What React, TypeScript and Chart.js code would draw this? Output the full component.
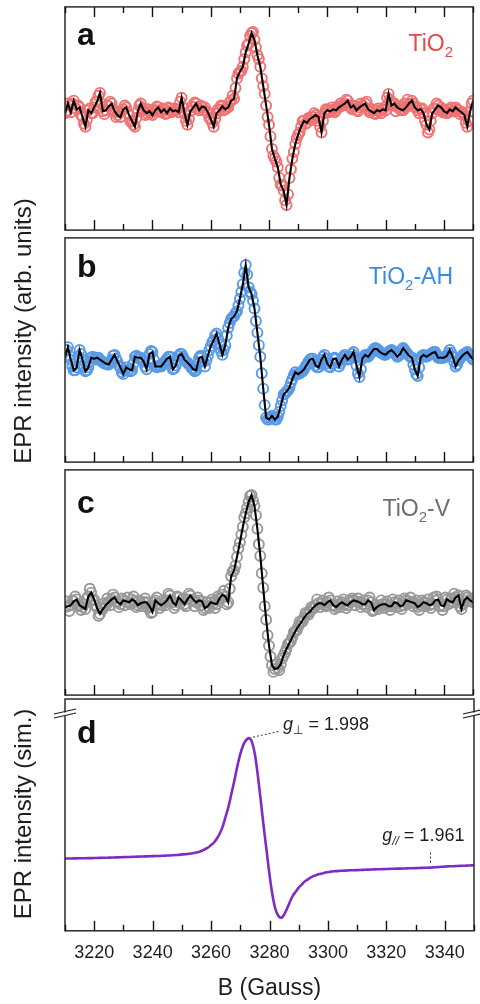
import React, { useEffect, useRef } from "react";
import { Chart, registerables } from "chart.js";

Chart.register(...registerables);

const FONT = "'Liberation Sans', Arial, Helvetica, 'DejaVu Sans', sans-serif";
const INK = "#1e1e1e";
const AXIS = "#2b2b2b";

// ---- field axis (Gauss) ----
const B_MIN = 3210;
const B_MAX = 3350;
const fieldGauss: number[] = Array.from({ length: 141 }, (_, i) => B_MIN + i);
const rawFieldGauss: number[] = Array.from({ length: 140 }, (_, i) => B_MIN + 0.5 + i);
const majorTicks = [3220, 3240, 3260, 3280, 3300, 3320, 3340];
const minorTicks = [3210, 3230, 3250, 3270, 3290, 3310, 3330, 3350];
const tickLabels = ["3220", "3240", "3260", "3280", "3300", "3320", "3340"];

// ---- (a) TiO2 ----
const tio2Line = [
  2, 12, 3, 15, 6, 8, -2, -12, 5, 2,
  8, 14, 23, 4, 5, 9, 12, 4, 0, -2,
  6, 8, 0, -6, -12, 4, 12, 5, 2, 4,
  0, 5, 8, 3, 6, 2, 7, 4, 5, 3,
  18, 2, -10, 4, 8, 12, 5, 9, 8, 3,
  -4, -12, 2, 5, 9, 6, 8, 15, 17, 38,
  45, 50, 65, 74, 85, 78, 62, 50, 30, 10,
  -10, -35, -45, -54, -72, -78, -93, -65, -45, -30,
  -20, -12, -6, -8, -4, -2, 0, -2, -18, 2,
  5, 4, 6, 5, 8, 10, 12, 15, 8, 10,
  5, 8, 10, 12, 6, 4, 2, 5, 4, 6,
  5, 22, 10, 12, 8, 6, 5, 8, 12, 15,
  8, 5, 6, 2, -10, -15, 2, 6, 10, 8,
  4, 2, 6, 4, 8, 5, 3, 0, -12, 4,
  15,
];
const tio2Raw = [
  4, 10, 12, 7, 10, 0, -9, -5, 7, 2,
  14, 20, 12, 1, 10, 14, 6, -2, 3, 4,
  10, 2, -7, -10, -3, 10, 7, 0, 6, 2,
  4, 9, 4, 7, 1, 8, 3, 7, 6, 14,
  8, -6, -4, 9, 13, 7, 10, 5, 4, -3,
  -8, -4, 6, 10, 5, 9, 13, 20, 28, 43,
  46, 58, 72, 82, 86, 70, 58, 38, 22, -2,
  -22, -42, -48, -65, -73, -88, -82, -56, -38, -24,
  -18, -6, -9, -3, -5, 2, -6, -12, -6, 6,
  3, 8, 3, 9, 12, 10, 16, 10, 6, 9,
  4, 12, 9, 14, 3, 6, 1, 7, 2, 8,
  18, 16, 12, 4, 9, 5, 12, 16, 11, 12,
  9, 2, 7, -6, -18, -6, 7, 12, 5, 3,
  5, 3, 8, 4, 6, 1, 3, -8, -6, 12,
];

// ---- (b) TiO2-AH ----
const tio2AhLine = [
  5, 15, 2, -9, -6, 12, 2, -10, -6, 4,
  3, 4, 2, 0, -2, -3, 2, 7, 0, -6,
  -13, -6, -8, -9, 5, 4, 4, 0, -8, 8,
  10, -5, -5, -5, -1, 3, 5, -8, -4, 6,
  8, 2, -1, -4, -8, -9, 4, 5, -5, 6,
  16, 22, 29, 18, 7, 17, 35, 44, 47, 52,
  65, 80, 100, 77, 70, 55, 30, 5, -28, -58,
  -60, -56, -60, -57, -46, -34, -31, -27, -18, -11,
  -13, -11, -8, -3, 2, 3, -4, -6, 2, 7,
  -2, -6, 3, 3, -5, 2, 7, 2, 5, 10,
  -4, -16, 3, 7, 5, 9, 13, 13, 10, 8,
  7, 10, 12, 9, 5, 8, 14, 10, 6, 4,
  -8, -15, 4, 7, 5, 7, 9, 10, 4, 4,
  4, 6, 12, 5, -5, 1, 5, 8, 10, 6,
  2,
];
const tio2AhRaw = [
  12, 6, -5, -9, 5, 8, -5, -9, 0, 5,
  2, 4, 0, -2, -3, 0, 6, 3, -4, -11,
  -9, -6, -10, -2, 6, 3, 2, -5, 0, 11,
  2, -6, -4, -3, 1, 5, -2, -7, 2, 8,
  5, 0, -3, -7, -10, -2, 6, 0, 1, 12,
  20, 27, 24, 11, 12, 27, 40, 46, 50, 58,
  72, 92, 90, 72, 63, 42, 17, -12, -45, -60,
  -58, -58, -60, -52, -40, -33, -30, -22, -14, -13,
  -12, -10, -5, 0, 3, 0, -6, -2, 5, 3,
  -5, -2, 4, -1, -2, 5, 5, 3, 8, 4,
  -12, -8, 5, 6, 7, 11, 14, 12, 9, 7,
  9, 11, 11, 7, 6, 12, 12, 8, 5, -3,
  -13, -6, 6, 6, 6, 8, 10, 7, 4, 4,
  5, 9, 9, 0, -3, 3, 7, 9, 8, 4,
];

// ---- (c) TiO2-V ----
const tio2VLine = [
  -5, -4, -3, 1, 3, -3, -5, -7, 6, 10,
  3, -6, -12, -7, -3, 0, 3, 5, 0, -2,
  2, 1, 0, 3, 1, -3, -1, 0, 0, -4,
  -10, 2, -1, -3, -1, 2, 7, 0, -3, 5,
  2, -2, 3, 7, 3, 0, 2, 1, -6, -4,
  0, -1, -2, 4, 8, 6, 0, 27, 33, 47,
  62, 78, 92, 104, 111, 100, 76, 48, 15, -18,
  -45, -65, -69, -68, -64, -55, -48, -42, -36, -30,
  -25, -21, -16, -12, -10, -6, -3, -1, -1, -3,
  0, 2, -3, -5, -2, 0, -2, -3, 0, 2,
  1, 0, -2, -2, 2, 0, -8, -5, -3, -2,
  -2, -4, -4, 0, -1, -4, -3, 2, 1, 0,
  -1, -5, -3, 0, -1, -3, -2, 2, 3, -3,
  -4, 3, 1, 0, 5, 7, -7, 2, 5, 2,
  0,
];
const tio2VRaw = [
  1, -9, 2, 6, -4, -8, -2, 4, 14, 2,
  -3, -14, -6, -1, 4, -3, 8, 1, -5, 4,
  -3, 5, -2, 6, -5, 2, -4, 4, -6, -11,
  0, 5, -6, 2, -3, 9, 2, -6, 6, -1,
  4, -4, 9, 2, -4, 5, -3, -8, 0, -6,
  3, -6, 6, 4, 12, -2, 14, 32, 38, 56,
  70, 88, 98, 110, 105, 90, 60, 30, -4, -34,
  -56, -72, -64, -70, -58, -52, -43, -40, -31, -29,
  -20, -20, -11, -13, -5, -6, 3, -5, 2, -4,
  5, -3, -7, 1, -5, 3, -6, 2, 4, -3,
  4, -5, 2, -5, 5, -9, -3, -7, 2, -6,
  1, -8, 3, -5, 2, -7, 4, -2, 5, -4,
  2, -8, 2, -4, 3, -6, 5, 6, -4, -8,
  5, -2, 4, 9, 3, -4, -2, 7, 1, 4,
];

// ---- (d) simulation ----
const simCurve = [
  0, 0.05, 0.1, 0.15, 0.2, 0.25, 0.3, 0.35, 0.4, 0.45,
  0.5, 0.6, 0.7, 0.75, 0.8, 0.9, 1.0, 1.1, 1.2, 1.3,
  1.4, 1.5, 1.6, 1.7, 1.8, 1.9, 2.0, 2.1, 2.2, 2.3,
  2.4, 2.5, 2.6, 2.7, 2.8, 3.0, 3.1, 3.3, 3.5, 3.7,
  4.0, 4.3, 4.6, 5.0, 5.5, 6.0, 6.7, 8.0, 9.5, 11,
  13.5, 16, 20, 25, 32, 42, 52, 65, 78, 92,
  104, 113, 118, 120, 116, 104, 83, 58, 32, 8,
  -16, -36, -50, -57, -59, -56, -50, -43, -37, -33,
  -29, -26, -23, -21, -19, -17.5, -16.5, -15.5, -15, -14,
  -13.5, -13, -12.7, -12.5, -12.3, -12.1, -12, -11.8, -11.7, -11.6,
  -11.5, -11.4, -11.3, -11.1, -11, -10.9, -10.8, -10.7, -10.6, -10.5,
  -10.4, -10.3, -10.2, -10.1, -10, -10, -9.9, -9.8, -9.7, -9.6,
  -9.5, -9.4, -9.3, -9.2, -9.1, -9, -8.8, -8.6, -8.4, -8.2,
  -8, -7.8, -7.7, -7.6, -7.5, -7.3, -7.2, -7.1, -7, -6.8,
  -6.7,
];
const gPerpField = 3273;
const gPerpLabel = "1.998";
const gParField = 3335;
const gParLabel = "1.961";

type Run = { text: string; size: number; bold?: boolean; italic?: boolean; dy?: number };

interface PanelSpec {
  id: string;
  letter: string;
  canvasTop: number;
  canvasHeight: number;
  padTop: number;
  padBottom: number;
  yMin: number;
  yMax: number;
  line: number[];
  raw: number[] | null;
  markColor: string;
  labelColor: string;
  labelRuns: Run[];
  letterDy: number;
  labelDy: number;
  labelRight: number;
  topTicks: boolean;
  isSim: boolean;
}

const PANELS: PanelSpec[] = [
  {
    id: "a", letter: "a", canvasTop: 0, canvasHeight: 237, padTop: 3, padBottom: 3,
    yMin: -119, yMax: 112, line: tio2Line, raw: tio2Raw,
    markColor: "rgb(240,114,114)", labelColor: "rgb(232,72,72)",
    labelRuns: [{ text: "TiO", size: 23 }, { text: "2", size: 15, dy: 6 }],
    letterDy: 38, labelDy: 44, labelRight: 453, topTicks: true, isSim: false,
  },
  {
    id: "b", letter: "b", canvasTop: 231, canvasHeight: 238, padTop: 3, padBottom: 3,
    yMin: -104, yMax: 128, line: tio2AhLine, raw: tio2AhRaw,
    markColor: "rgb(88,154,232)", labelColor: "rgb(58,140,226)",
    labelRuns: [{ text: "TiO", size: 23 }, { text: "2", size: 15, dy: 6 }, { text: "-AH", size: 23 }],
    letterDy: 39, labelDy: 46, labelRight: 453, topTicks: false, isSim: false,
  },
  {
    id: "c", letter: "c", canvasTop: 463, canvasHeight: 239, padTop: 3, padBottom: 3,
    yMin: -96, yMax: 137, line: tio2VLine, raw: tio2VRaw,
    markColor: "rgb(152,152,152)", labelColor: "rgb(110,110,110)",
    labelRuns: [{ text: "TiO", size: 23 }, { text: "2", size: 15, dy: 6 }, { text: "-V", size: 23 }],
    letterDy: 43, labelDy: 46, labelRight: 450, topTicks: false, isSim: false,
  },
  {
    id: "d", letter: "d", canvasTop: 695, canvasHeight: 309, padTop: 4, padBottom: 2,
    yMin: -72, yMax: 159, line: simCurve, raw: null,
    markColor: "rgb(128,42,196)", labelColor: INK,
    labelRuns: [],
    letterDy: 44, labelDy: 0, labelRight: 0, topTicks: false, isSim: true,
  },
];

function fontOf(r: Run) {
  return `${r.italic ? "italic " : ""}${r.bold ? "bold " : ""}${r.size}px ${FONT}`;
}

function drawRuns(ctx: CanvasRenderingContext2D, runs: Run[], x: number, y: number, align: "left" | "right", color: string) {
  ctx.save();
  ctx.fillStyle = color;
  ctx.textAlign = "left";
  ctx.textBaseline = "alphabetic";
  let total = 0;
  for (const r of runs) {
    ctx.font = fontOf(r);
    total += ctx.measureText(r.text).width;
  }
  let cx = align === "right" ? x - total : x;
  for (const r of runs) {
    ctx.font = fontOf(r);
    ctx.fillText(r.text, cx, y + (r.dy || 0));
    cx += ctx.measureText(r.text).width;
  }
  ctx.restore();
}

function makeFramePlugin(spec: PanelSpec) {
  return {
    id: "panelFrame" + spec.id,
    afterDatasetsDraw(chart: any) {
      const ctx: CanvasRenderingContext2D = chart.ctx;
      const { left, right, top, bottom } = chart.chartArea;
      const xs = chart.scales.x;
      const ys = chart.scales.y;
      ctx.save();
      ctx.setLineDash([]);
      ctx.strokeStyle = AXIS;
      ctx.lineWidth = 1.5;
      ctx.strokeRect(left, top, right - left, bottom - top);
      ctx.lineWidth = 1.4;
      ctx.strokeStyle = "#111";
      ctx.beginPath();
      for (const v of majorTicks) {
        const px = Math.round(xs.getPixelForValue(v)) + 0.5;
        ctx.moveTo(px, bottom);
        ctx.lineTo(px, bottom - 10);
        if (spec.topTicks) {
          ctx.moveTo(px, top);
          ctx.lineTo(px, top + 10);
        }
      }
      for (const v of minorTicks) {
        const px = Math.round(xs.getPixelForValue(v)) + 0.5;
        ctx.moveTo(px, bottom);
        ctx.lineTo(px, bottom - 6);
        if (spec.topTicks) {
          ctx.moveTo(px, top);
          ctx.lineTo(px, top + 6);
        }
      }
      ctx.stroke();
      ctx.restore();

      drawRuns(ctx, [{ text: spec.letter, size: 32, bold: true }], left + 12, top + spec.letterDy, "left", "#111");
      if (spec.labelRuns.length) {
        drawRuns(ctx, spec.labelRuns, spec.labelRight, top + spec.labelDy, "right", spec.labelColor);
      }

      if (spec.isSim) {
        const pi = fieldGauss.indexOf(gPerpField);
        const px = xs.getPixelForValue(gPerpField);
        const py = ys.getPixelForValue(spec.line[pi]);
        ctx.save();
        ctx.strokeStyle = "#333";
        ctx.lineWidth = 1;
        ctx.setLineDash([2, 2]);
        ctx.beginPath();
        ctx.moveTo(px + 4, py - 1);
        ctx.lineTo(px + 31, py - 7);
        ctx.stroke();
        ctx.restore();
        drawRuns(ctx, [
          { text: "g", size: 18, italic: true },
          { text: "\u22A5", size: 12, dy: 4 },
          { text: " = " + gPerpLabel, size: 18 },
        ], px + 34, py - 8, "left", INK);

        const qi = fieldGauss.indexOf(gParField);
        const qx = xs.getPixelForValue(gParField);
        const qy = ys.getPixelForValue(spec.line[qi]);
        ctx.save();
        ctx.strokeStyle = "#333";
        ctx.lineWidth = 1;
        ctx.setLineDash([2, 2]);
        ctx.beginPath();
        ctx.moveTo(Math.round(qx) + 0.5, qy - 5);
        ctx.lineTo(Math.round(qx) + 0.5, qy - 17);
        ctx.stroke();
        ctx.restore();
        drawRuns(ctx, [
          { text: "g", size: 18, italic: true },
          { text: "//", size: 12, italic: true, dy: 4 },
          { text: " = " + gParLabel, size: 18 },
        ], qx - 48, qy - 27, "left", INK);

        const by = top + 13;
        for (const sx of [left, right]) {
          ctx.save();
          ctx.fillStyle = "#fff";
          ctx.beginPath();
          ctx.moveTo(sx - 11, by + 3);
          ctx.lineTo(sx + 11, by - 2);
          ctx.lineTo(sx + 11, by + 1);
          ctx.lineTo(sx - 11, by + 6);
          ctx.closePath();
          ctx.fill();
          ctx.strokeStyle = "#222";
          ctx.lineWidth = 1.1;
          ctx.beginPath();
          ctx.moveTo(sx - 11, by + 2);
          ctx.lineTo(sx + 11, by - 3);
          ctx.moveTo(sx - 11, by + 6);
          ctx.lineTo(sx + 11, by + 1);
          ctx.stroke();
          ctx.restore();
        }
      }
    },
  };
}

function circleSet(points: { x: number; y: number }[], color: string, order: number) {
  return {
    data: points,
    showLine: false,
    pointRadius: 5,
    pointBorderWidth: 1.9,
    pointBorderColor: color,
    pointBackgroundColor: "rgba(255,255,255,0)",
    pointStyle: "circle",
    order,
  };
}

function makeChart(canvas: HTMLCanvasElement, spec: PanelSpec) {
  const linePoints = fieldGauss.map((b, i) => ({ x: b, y: spec.line[i] }));
  const datasets: any[] = [
    {
      data: linePoints,
      borderColor: spec.isSim ? spec.markColor : "#000",
      borderWidth: spec.isSim ? 2.6 : 2.1,
      pointRadius: 0,
      tension: 0,
      cubicInterpolationMode: spec.isSim ? "monotone" : "default",
      fill: false,
      order: 0,
    },
  ];
  if (spec.raw) {
    const raw = spec.raw;
    const rawPoints = rawFieldGauss.map((b, i) => ({ x: b, y: raw[i] }));
    datasets.push(circleSet(rawPoints, spec.markColor, 1));
    datasets.push(circleSet(linePoints, spec.markColor, 2));
  }

  const xScale: any = spec.isSim
    ? {
        type: "linear",
        min: B_MIN,
        max: B_MAX,
        display: true,
        grid: { display: false, drawTicks: false },
        border: { display: false },
        afterBuildTicks: (scale: any) => {
          scale.ticks = majorTicks.map((value) => ({ value }));
        },
        ticks: {
          autoSkip: false,
          maxRotation: 0,
          padding: 11,
          color: INK,
          font: { family: FONT, size: 18 },
          callback: (v: any) => {
            const k = majorTicks.indexOf(Number(v));
            return k >= 0 ? tickLabels[k] : "";
          },
        },
        title: {
          display: true,
          text: "B (Gauss)",
          color: INK,
          font: { family: FONT, size: 23 },
          padding: { top: 0, bottom: 0 },
        },
      }
    : { type: "linear", min: B_MIN, max: B_MAX, display: false };

  return new Chart(canvas, {
    type: "line",
    data: { datasets },
    options: {
      responsive: false,
      animation: false,
      devicePixelRatio: 1,
      events: [],
      layout: { padding: { left: 65, right: 6, top: spec.padTop, bottom: spec.padBottom } },
      plugins: {
        legend: { display: false },
        tooltip: { enabled: false },
        title: { display: false },
      },
      scales: {
        x: xScale,
        y: { type: "linear", display: false, min: spec.yMin, max: spec.yMax },
      },
    } as any,
    plugins: [makeFramePlugin(spec) as any],
  });
}

export default function App() {
  const canvases = useRef<(HTMLCanvasElement | null)[]>([]);

  useEffect(() => {
    const charts = PANELS.map((p, i) => makeChart(canvases.current[i] as HTMLCanvasElement, p));
    return () => charts.forEach((c) => c.destroy());
  }, []);

  const titleStyle = (cy: number, w: number): React.CSSProperties => ({
    position: "absolute",
    left: 23 - w / 2,
    top: cy - 14,
    width: w,
    height: 28,
    lineHeight: "28px",
    fontSize: 24,
    fontFamily: FONT,
    color: INK,
    textAlign: "center",
    whiteSpace: "nowrap",
    transform: "rotate(-90deg)",
    transformOrigin: "50% 50%",
  });

  return (
    <div style={{ position: "absolute", left: 0, top: 0, width: 480, height: 1004, background: "#fff", overflow: "hidden" }}>
      {PANELS.map((p, i) => (
        <canvas
          key={p.id}
          ref={(el) => {
            canvases.current[i] = el;
          }}
          width={480}
          height={p.canvasHeight}
          style={{ position: "absolute", left: 0, top: p.canvasTop, width: 480, height: p.canvasHeight }}
        />
      ))}
      <div style={titleStyle(331, 320)}>EPR intensity (arb. units)</div>
      <div style={titleStyle(814, 260)}>EPR intensity (sim.)</div>
    </div>
  );
}
